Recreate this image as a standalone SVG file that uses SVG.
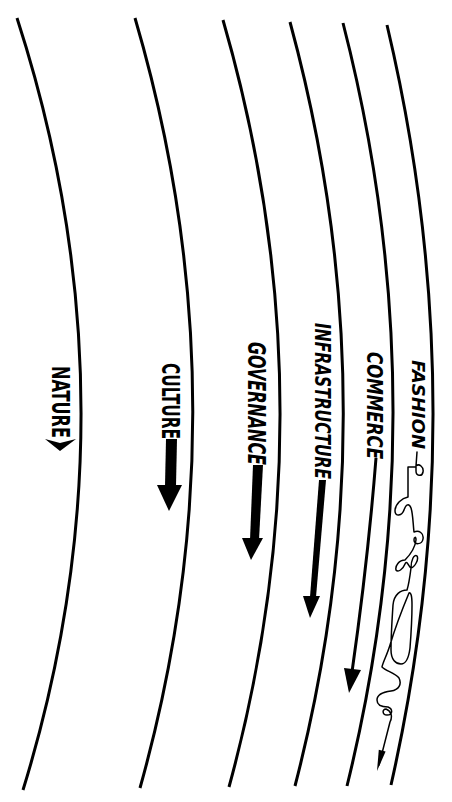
<svg xmlns="http://www.w3.org/2000/svg" width="452" height="802" viewBox="0 0 452 802">
<style>
.layer{fill:none;stroke:#000;stroke-width:3;stroke-linecap:butt}
.lbl{font-family:"DejaVu Sans Condensed","DejaVu Sans",sans-serif;font-stretch:condensed;font-weight:bold;fill:#000}
.it{font-style:italic}
.fill{fill:#000;stroke:none}
.thin{fill:none;stroke:#000;stroke-width:1.5;stroke-linejoin:round;stroke-linecap:round}
</style>
<rect width="452" height="802" fill="#fff"/>
<g id="boundaries">
<path class="layer" d="M17,18 Q142,404 23,790"/>
<path class="layer" d="M135,18 Q248,403 140,788"/>
<path class="layer" d="M223,20 Q334,403 229,787"/>
<path class="layer" d="M290,22 Q394,404 295,786"/>
<path class="layer" d="M343,23 Q441,404 347,786"/>
<path class="layer" d="M387,25 Q477,405 391,785"/>
</g>
<g id="nature">
<text class="lbl" font-size="24" textLength="72" lengthAdjust="spacingAndGlyphs" transform="translate(52,366) rotate(90)">NATURE</text>
</g>
<g id="culture">
<text class="lbl" font-size="24" textLength="76" lengthAdjust="spacingAndGlyphs" transform="translate(162,363) rotate(90)">CULTURE</text>
</g>
<g id="governance">
<text class="lbl it" font-size="25" textLength="123" lengthAdjust="spacingAndGlyphs" transform="translate(248,342) rotate(90)">GOVERNANCE</text>
</g>
<g id="infrastructure">
<text class="lbl it" font-size="21" textLength="156" lengthAdjust="spacingAndGlyphs" transform="translate(315,323) rotate(90)">INFRASTRUCTURE</text>
</g>
<g id="commerce">
<text class="lbl it" font-size="22" textLength="107" lengthAdjust="spacingAndGlyphs" transform="translate(367,352) rotate(90)">COMMERCE</text>
</g>
<g id="fashion">
<text class="lbl it" font-size="18" textLength="89" lengthAdjust="spacingAndGlyphs" transform="translate(412,360) rotate(90)">FASHION</text>
</g>
<g id="connectors">
<polygon class="fill" points="45,439 60,443 76,439 60,451"/>
<polygon class="fill" points="166,439 177,439 176,486 165,486"/>
<polygon class="fill" points="157,485 182,485 169,511"/>
<polygon class="fill" points="253,465 263,465 259,540 250,540"/>
<polygon class="fill" points="242,538 263,538 251,560"/>
<polygon class="fill" points="319,480 326,480 316,597 310,597"/>
<polygon class="fill" points="303,596 320,596 310,618"/>
<path class="layer" d="M376,458 Q368,560 352,672"/>
<polygon class="fill" points="344,668 361,670 349,693"/>
<path class="thin" d="M417,452 L416,466 C419,463 424,467 423,472 C422,477 416,476 416,471 L416,467 L408,467 L408,497 C402,498 395,504 395,511 C395,517 402,516 404,510 C406,504 409,503 411,508 C413,514 413,524 414,532 C419,530 424,533 423,539 C422,545 414,545 414,540 C414,537 416,536 416,540 C415,548 410,555 405,560 C399,560 395,566 396,570 C398,573 403,569 405,564 C407,559 409,568 411,568 C415,567 419,559 417,556 C414,554 411,560 411,568 C410,576 409,584 407,590 C401,590 394,594 393,605 C392,620 391,640 391,650 C391,660 396,664 401,664 C407,664 409,656 410,648 C411,635 412,618 412,605 C412,596 411,592 409,593 C404,605 396,625 390,645 C387,655 383,662 382,667 C386,671 395,673 399,678 C402,684 399,690 391,691 C383,692 377,694 377,700 C377,706 383,707 388,707 C393,709 393,715 387,715 C382,715 382,709 386,709 C391,711 393,716 390,722 L379,765"/>
<polygon class="fill" points="378.8,749.8 385.6,751.6 377,771"/>
</g>
</svg>
